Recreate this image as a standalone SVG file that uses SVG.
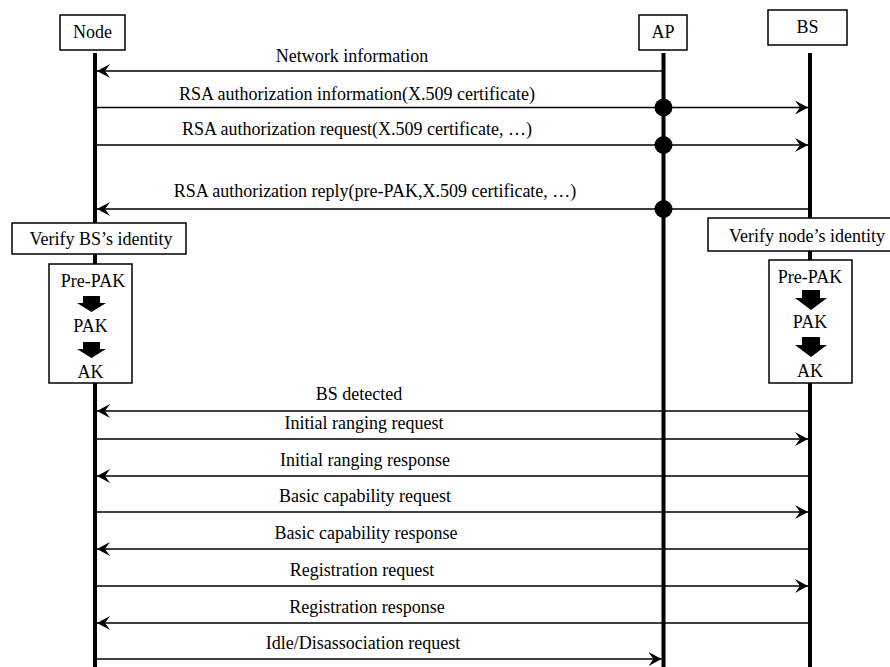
<svg xmlns="http://www.w3.org/2000/svg" width="890" height="667" viewBox="0 0 890 667">
  <defs>
    <style>
      text { font-family: "Liberation Serif", "Times New Roman", serif; font-size: 18px; fill: #000; }
      .box { fill: #fff; stroke: #000; stroke-width: 1.5; }
      .life { stroke: #000; stroke-width: 4; fill: none; }
      .msg { stroke: #000; stroke-width: 1.6; fill: none; }
      .dot { fill: #000; }
      .block { fill: #000; }
      .mid { text-anchor: middle; }
    </style>
    <marker id="arrow" viewBox="0 0 14 14" refX="13" refY="7" markerWidth="14" markerHeight="14" markerUnits="userSpaceOnUse" orient="auto">
      <path d="M13,7 L0,0 L5,7 L0,14 Z" fill="#000"/>
    </marker>
  </defs>

  <rect width="890" height="667" fill="#fff"/>

  <!-- lifelines -->
  <g id="lifelines">
    <line class="life" x1="95" y1="53" x2="95" y2="667"/>
    <line class="life" x1="663.5" y1="53" x2="663.5" y2="667"/>
    <line class="life" x1="810" y1="53" x2="810" y2="667"/>
  </g>

  <!-- participants -->
  <g id="node-participant">
    <rect class="box" x="60" y="15" width="65" height="35"/>
    <text class="mid" x="92.5" y="38">Node</text>
  </g>
  <g id="ap-participant">
    <rect class="box" x="639" y="15" width="48" height="35"/>
    <text class="mid" x="663" y="38">AP</text>
  </g>
  <g id="bs-participant">
    <rect class="box" x="768" y="10" width="79" height="35"/>
    <text class="mid" x="807.5" y="33">BS</text>
  </g>

  <!-- connectors -->
  <g id="connectors">
    <line class="msg" x1="662" y1="71" x2="97" y2="71" marker-end="url(#arrow)"/>
    <line class="msg" x1="97" y1="107.5" x2="808" y2="107.5" marker-end="url(#arrow)"/>
    <circle class="dot" cx="663.5" cy="107.5" r="9"/>
    <line class="msg" x1="97" y1="145" x2="808" y2="145" marker-end="url(#arrow)"/>
    <circle class="dot" cx="663.5" cy="145" r="9"/>
    <line class="msg" x1="808" y1="209" x2="97" y2="209" marker-end="url(#arrow)"/>
    <circle class="dot" cx="663.5" cy="209" r="9"/>

    <line class="msg" x1="808" y1="411" x2="97" y2="411" marker-end="url(#arrow)"/>
    <line class="msg" x1="97" y1="439" x2="808" y2="439" marker-end="url(#arrow)"/>
    <line class="msg" x1="808" y1="476" x2="97" y2="476" marker-end="url(#arrow)"/>
    <line class="msg" x1="97" y1="512" x2="808" y2="512" marker-end="url(#arrow)"/>
    <line class="msg" x1="808" y1="549" x2="97" y2="549" marker-end="url(#arrow)"/>
    <line class="msg" x1="97" y1="586" x2="808" y2="586" marker-end="url(#arrow)"/>
    <line class="msg" x1="808" y1="623" x2="97" y2="623" marker-end="url(#arrow)"/>
    <line class="msg" x1="97" y1="659" x2="661.5" y2="659" marker-end="url(#arrow)"/>
  </g>

  <!-- message labels -->
  <g id="labels">
    <text class="mid" x="352" y="62">Network information</text>
    <text class="mid" x="357" y="100">RSA authorization information(X.509 certificate)</text>
    <text class="mid" x="357" y="135">RSA authorization request(X.509 certificate, …)</text>
    <text class="mid" x="375" y="197">RSA authorization reply(pre-PAK,X.509 certificate, …)</text>
    <text class="mid" x="359" y="400">BS detected</text>
    <text class="mid" x="364" y="429">Initial ranging request</text>
    <text class="mid" x="365" y="466">Initial ranging response</text>
    <text class="mid" x="365" y="502">Basic capability request</text>
    <text class="mid" x="366" y="539">Basic capability response</text>
    <text class="mid" x="362" y="576">Registration request</text>
    <text class="mid" x="367" y="613">Registration response</text>
    <text class="mid" x="363" y="649">Idle/Disassociation request</text>
  </g>

  <!-- Node side: verification and key derivation -->
  <g id="verify-bs">
    <rect class="box" x="12" y="223" width="174" height="31"/>
    <text class="mid" x="101" y="245">Verify BS’s identity</text>
  </g>
  <g id="node-keys">
    <rect class="box" x="49" y="264" width="83" height="119"/>
    <text class="mid" x="93" y="287">Pre-PAK</text>
    <path class="block" d="M83,296 H100 V303 H106 L91.5,312 L77,303 H83 Z"/>
    <text class="mid" x="90.5" y="332">PAK</text>
    <path class="block" d="M83,342 H100 V349 H106 L91.5,358 L77,349 H83 Z"/>
    <text class="mid" x="90.5" y="378">AK</text>
  </g>

  <!-- BS side: verification and key derivation -->
  <g id="verify-node">
    <rect class="box" x="708" y="218" width="186" height="33"/>
    <text x="729" y="242">Verify node’s identity</text>
  </g>
  <g id="bs-keys">
    <rect class="box" x="769" y="260" width="83" height="123"/>
    <text class="mid" x="810" y="283">Pre-PAK</text>
    <path class="block" d="M802,290 H820 V298 H827 L811,310 L795,298 H802 Z"/>
    <text class="mid" x="810" y="328">PAK</text>
    <path class="block" d="M802,337 H820 V345 H827 L811,357 L795,345 H802 Z"/>
    <text class="mid" x="810" y="377">AK</text>
  </g>
</svg>
